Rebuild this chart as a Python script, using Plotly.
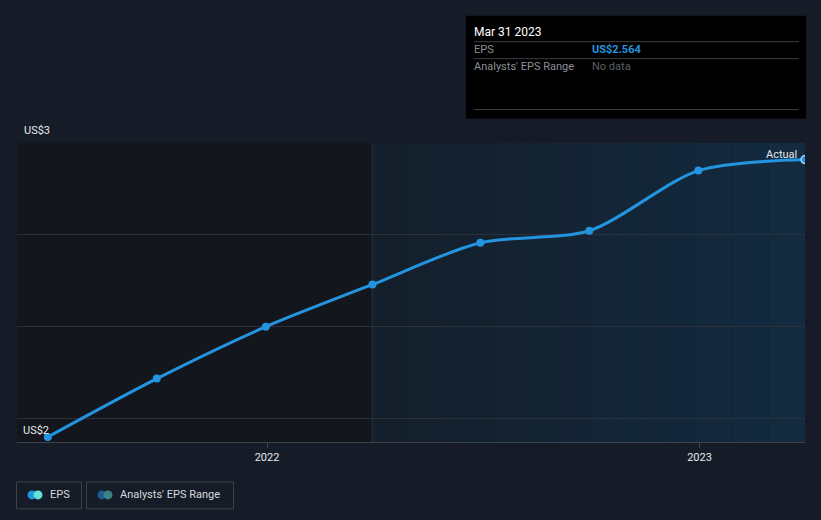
import plotly.graph_objects as go
import datetime as _dt

# ---- data ----
dates = ["2021-06-30", "2021-09-30", "2021-12-31", "2022-03-31",
         "2022-06-30", "2022-09-30", "2022-12-31", "2023-03-31"]
eps = [1.960, 2.087, 2.200, 2.292, 2.383, 2.409, 2.540, 2.564]
x_ticks = ["2022-01-01", "2023-01-01"]
x_tick_labels = ["2022", "2023"]
y_grid = [2.0, 2.2, 2.4, 2.6]
y_range = [1.949, 2.6]
x_range = ["2021-06-04", "2023-03-31"]
split_date = "2022-03-31"
tooltip_date = "Mar 31 2023"
tooltip_value = "US$2.564"

W, H = 821, 520
L, R, T, B = 17, 805, 142.5, 442
PW, PH = R - L, B - T

def px(x):
    return (x - L) / PW

def py(y):
    return (B - y) / PH

BLUE = "#2394df"
FONT = "Roboto, Arial, sans-serif"

fig = go.Figure()

fig.add_trace(go.Scatter(
    x=dates, y=eps, mode="lines+markers",
    line=dict(color=BLUE, width=3, shape="spline", smoothing=0.8),
    marker=dict(color=BLUE, size=8,
                line=dict(color=[BLUE] * (len(eps) - 1) + ["#9fd3f7"],
                          width=[0] * (len(eps) - 1) + [1.5])),
    cliponaxis=True, showlegend=False, hoverinfo="skip",
))

shapes = []
# past (dark) region
shapes.append(dict(type="rect", xref="x", yref="paper", x0=x_range[0], x1=split_date,
                   y0=0, y1=1, fillcolor="#13161d", line_width=0, layer="below"))
# recent region with a mild gradient
d0 = _dt.date.fromisoformat(split_date)
d1 = _dt.date.fromisoformat(x_range[1])
n = 24
c0 = (0x14, 0x1f, 0x2b)
c1 = (0x13, 0x2a, 0x40)
for i in range(n):
    a = d0 + (d1 - d0) * i / n
    b = d0 + (d1 - d0) * (i + 1) / n
    t = i / (n - 1)
    col = "rgb(%d,%d,%d)" % tuple(round(c0[k] + (c1[k] - c0[k]) * t) for k in range(3))
    shapes.append(dict(type="rect", xref="x", yref="paper", x0=a.isoformat(), x1=b.isoformat(),
                       y0=0, y1=1, fillcolor=col, line_width=0, layer="below"))
shapes.append(dict(type="line", xref="x", yref="paper", x0=split_date, x1=split_date,
                   y0=0, y1=1, line=dict(color="#1f2d3a", width=1.5), layer="below"))

# tooltip box
shapes.append(dict(type="rect", xref="paper", yref="paper", x0=px(466), x1=px(806),
                   y0=py(118), y1=py(15), fillcolor="#000000", line=dict(color="#000000", width=0)))
for yy in (41, 58, 109):
    shapes.append(dict(type="line", xref="paper", yref="paper", x0=px(474), x1=px(799),
                       y0=py(yy), y1=py(yy), line=dict(color="#3a3d42", width=1)))

# legend boxes
shapes.append(dict(type="rect", xref="paper", yref="paper", x0=px(16.5), x1=px(81.5),
                   y0=py(509), y1=py(482), line=dict(color="#3c424c", width=1), fillcolor="rgba(0,0,0,0)"))
shapes.append(dict(type="rect", xref="paper", yref="paper", x0=px(86.5), x1=px(233.5),
                   y0=py(509), y1=py(482), line=dict(color="#3c424c", width=1), fillcolor="rgba(0,0,0,0)"))

def circle(cx, cy, r, color):
    return dict(type="circle", xref="paper", yref="paper", x0=px(cx - r), x1=px(cx + r),
                y0=py(cy + r), y1=py(cy - r), fillcolor=color, line_width=0)

shapes += [circle(32, 495, 4.5, "#2394df"), circle(38, 495, 4.5, "#5fe3d4"),
           circle(102, 495, 4.5, "#1d5c8f"), circle(108, 495, 4.5, "#3b8383")]

annotations = []
def txt(x, y, s, color, size=11, xanchor="left", bold=False):
    annotations.append(dict(xref="paper", yref="paper", x=px(x), y=py(y),
                            text=("<b>%s</b>" % s) if bold else s,
                            showarrow=False, xanchor=xanchor, yanchor="middle",
                            font=dict(family=FONT, size=size, color=color)))

txt(472, 31, tooltip_date, "#ffffff", size=12)
txt(472, 49, "EPS", "#8a8f96")
txt(590, 49, tooltip_value, BLUE, bold=True)
txt(472, 66, "Analysts' EPS Range", "#8a8f96")
txt(590, 66, "No data", "#5c6066")

txt(22, 130, "US$3", "#e6e8eb")
txt(21, 430, "US$2", "#e6e8eb")
txt(799, 154, "Actual", "#e6e8eb", xanchor="right")

txt(48, 495, "EPS", "#d6d9dd", size=11)
txt(118, 495, "Analysts' EPS Range", "#d6d9dd", size=11)

fig.update_layout(
    width=W, height=H,
    margin=dict(l=L, r=W - R, t=T, b=H - B),
    paper_bgcolor="#161c27", plot_bgcolor="#161c27",
    shapes=shapes, annotations=annotations,
    showlegend=False,
    xaxis=dict(type="date", range=x_range, tickvals=x_ticks, ticktext=x_tick_labels,
               showgrid=False, zeroline=False, showline=True, linecolor="#3d434d", linewidth=1,
               ticks="outside", ticklen=5, tickcolor="#3d434d",
               tickfont=dict(family=FONT, size=11, color="#e6e8eb")),
    yaxis=dict(range=y_range, tickvals=y_grid, showticklabels=False, showgrid=True,
               gridcolor="#2b313b", gridwidth=1, zeroline=False, showline=False),
)

fig.write_html("out.html")
